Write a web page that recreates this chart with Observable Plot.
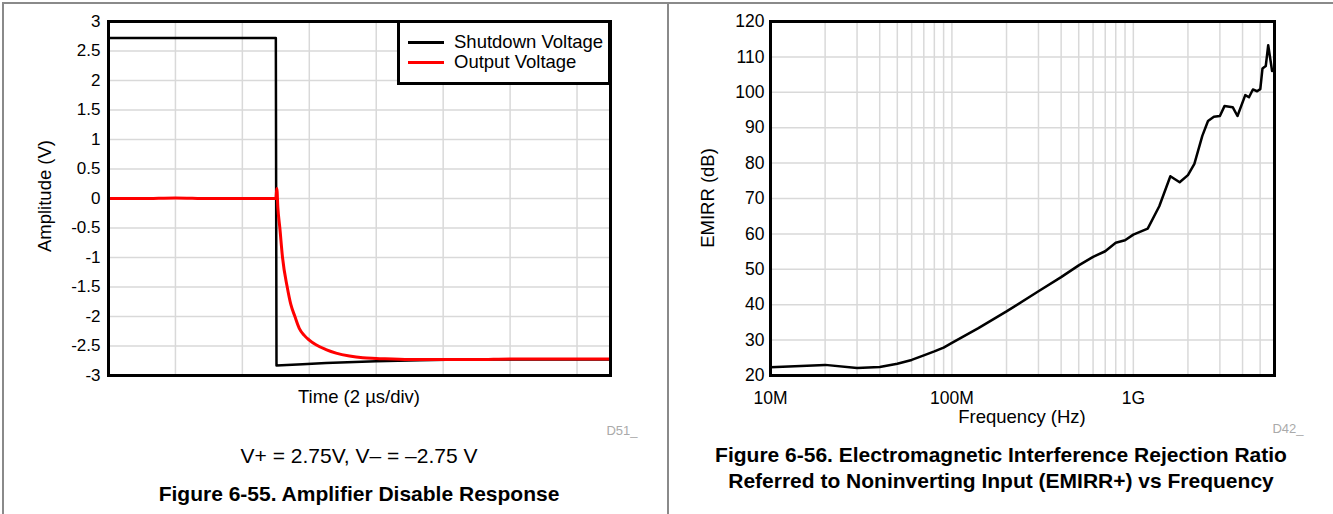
<!DOCTYPE html>
<html>
<head>
<meta charset="utf-8">
<script src="https://cdn.jsdelivr.net/npm/d3@7"></script>
<script src="https://cdn.jsdelivr.net/npm/@observablehq/plot@0.6"></script>
<style>
  html, body { margin: 0; padding: 0; background: #fff; }
  body { width: 1333px; height: 514px; position: relative; overflow: hidden;
         font-family: "Liberation Sans", Arial, sans-serif; color: #000; }
  .abs { position: absolute; white-space: nowrap; }
  .ctr { transform: translate(-50%, -50%); }
  .cap { font-weight: bold; font-size: 21px; }
  .code { color: #aaa; font-size: 13px; }
</style>
</head>
<body>
<div id="left" class="abs" style="left:0;top:0;"></div>
<div id="right" class="abs" style="left:670px;top:0;"></div>

<!-- page frame lines -->
<div class="abs" style="left:2px;top:2px;width:1333px;height:2px;background:#8a8a8a;"></div>
<div class="abs" style="left:2px;top:2px;width:2px;height:514px;background:#8a8a8a;"></div>
<div class="abs" style="left:667px;top:2px;width:2px;height:514px;background:#8a8a8a;"></div>

<!-- left panel texts -->
<div class="abs ctr" style="left:45px;top:196px;font-size:18.5px;transform:translate(-50%,-50%) rotate(-90deg);">Amplitude (V)</div>
<div class="abs ctr" style="left:359px;top:397px;font-size:18.5px;">Time (2 µs/div)</div>
<div class="abs ctr code" style="left:622px;top:430px;">D51_</div>
<div class="abs ctr" style="left:359px;top:456px;font-size:21px;">V+ = 2.75V, V– = –2.75 V</div>
<div class="abs ctr cap" style="left:359px;top:494px;">Figure 6-55. Amplifier Disable Response</div>
<div id="legend" class="abs" style="left:397px;top:20px;width:208px;height:59px;border:3px solid #000;background:#fff;"></div>

<!-- right panel texts -->
<div class="abs ctr" style="left:708px;top:198px;font-size:18.5px;transform:translate(-50%,-50%) rotate(-90deg);">EMIRR (dB)</div>
<div class="abs ctr" style="left:1022px;top:417px;font-size:18.5px;">Frequency (Hz)</div>
<div class="abs ctr code" style="left:1288px;top:428px;">D42_</div>
<div class="abs ctr cap" style="left:1001px;top:455px;">Figure 6-56. Electromagnetic Interference Rejection Ratio</div>
<div class="abs ctr cap" style="left:1001px;top:481px;">Referred to Noninverting Input (EMIRR+) vs Frequency</div>

<script>
// ---------- Data: Figure 6-55 (time in µs, amplitude in V) ----------
const shutdownT = [0, 5.0, 5.02, 5.8, 6.5, 8.0, 9.3, 10.5, 12, 15];
const shutdownV = [2.72, 2.72, -2.83, -2.81, -2.79, -2.76, -2.74, -2.73, -2.73, -2.73];

const outputT = [0, 1, 2, 3, 4, 5.0, 5.03, 5.06, 5.12, 5.2, 5.34, 5.45, 5.57, 5.7, 5.85, 6.0, 6.2, 6.5, 6.8, 7.2, 7.6, 8.0, 9, 10, 11, 12, 13, 14, 15];
const outputV = [0, 0, 0.01, 0, 0, 0, 0.17, -0.15, -0.5, -1.0, -1.5, -1.8, -2.0, -2.2, -2.32, -2.40, -2.48, -2.56, -2.62, -2.67, -2.70, -2.71, -2.73, -2.73, -2.73, -2.72, -2.72, -2.72, -2.72];

const ampTicks = [-3, -2.5, -2, -1.5, -1, -0.5, 0, 0.5, 1, 1.5, 2, 2.5, 3];
const timeGrid = [2, 4, 6, 8, 10, 12, 14];

// ---------- Data: Figure 6-56 (frequency in Hz, EMIRR in dB) ----------
const freqHz = [1e7, 2e7, 3e7, 4e7, 5e7, 6e7, 7e7, 8e7, 9e7, 1e8, 1.4e8, 2e8, 3e8, 4e8, 5e8, 6e8, 7e8, 8e8, 9e8, 1e9,
  1.2e9, 1.39e9, 1.6e9, 1.8e9, 2.0e9, 2.17e9, 2.4e9, 2.58e9, 2.78e9, 3.0e9, 3.18e9, 3.53e9, 3.75e9, 4.14e9, 4.34e9,
  4.56e9, 4.81e9, 5.01e9, 5.15e9, 5.37e9, 5.54e9, 5.82e9];
const emirrDb = [22.3, 23.0, 22.1, 22.4, 23.3, 24.4, 25.7, 26.8, 27.9, 29.2, 33.4, 38.1, 43.8, 47.8, 51.1, 53.5, 55.1, 57.5, 58.2, 59.8,
  61.5, 67.8, 76.3, 74.6, 76.6, 79.8, 87.7, 91.9, 93.1, 93.3, 96.1, 95.8, 93.3, 99.2, 98.6,
  100.8, 100.3, 100.9, 106.7, 107.4, 113.3, 106.0];

const dbTicks = [20, 30, 40, 50, 60, 70, 80, 90, 100, 110, 120];
const freqLabelTicks = [1e7, 1e8, 1e9];
const freqLabels = ["10M", "100M", "1G"];
const freqGrid = [2e7, 3e7, 4e7, 5e7, 6e7, 7e7, 8e7, 9e7, 1e8, 2e8, 3e8, 4e8, 5e8, 6e8, 7e8, 8e8, 9e8, 1e9, 2e9, 3e9, 4e9, 5e9];

const shutdown = shutdownT.map((t, i) => ({t, v: shutdownV[i]}));
const output = outputT.map((t, i) => ({t, v: outputV[i]}));
const emirr = freqHz.map((f, i) => ({f, db: emirrDb[i]}));

const gridColor = "#d9d9d9";
const font = "'Liberation Sans', Arial, sans-serif";

const left = Plot.plot({
  width: 667, height: 400,
  marginLeft: 108, marginRight: 57, marginTop: 21, marginBottom: 25,
  style: {fontFamily: font, fontSize: "17px", background: "transparent", overflow: "visible"},
  x: {domain: [0, 15], axis: null},
  y: {domain: [-3, 3], axis: null},
  marks: [
    Plot.gridY(ampTicks, {stroke: gridColor, strokeOpacity: 1, strokeWidth: 1.5}),
    Plot.gridX(timeGrid, {stroke: gridColor, strokeOpacity: 1, strokeWidth: 1.5}),
    Plot.axisY(ampTicks, {tickSize: 0, tickPadding: 8, tickFormat: d => String(d), label: null, fontSize: 17}),
    Plot.line(shutdown, {x: "t", y: "v", stroke: "#000", strokeWidth: 2.5}),
    Plot.line(output, {x: "t", y: "v", stroke: "#ff0000", strokeWidth: 3, curve: "monotone-x"}),
    Plot.frame({stroke: "#000", strokeWidth: 3})
  ]
});
document.getElementById("left").appendChild(left);

const right = Plot.plot({
  width: 663, height: 430,
  marginLeft: 100, marginRight: 59, marginTop: 21, marginBottom: 55,
  style: {fontFamily: font, fontSize: "17px", background: "transparent", overflow: "visible"},
  x: {type: "log", domain: [1e7, 6e9], axis: null},
  y: {domain: [20, 120], axis: null},
  marks: [
    Plot.gridY(dbTicks, {stroke: gridColor, strokeOpacity: 1, strokeWidth: 1.5}),
    Plot.gridX(freqGrid, {stroke: gridColor, strokeOpacity: 1, strokeWidth: 1.5}),
    Plot.axisY(dbTicks, {tickSize: 0, tickPadding: 6, tickFormat: d => String(d), label: null, fontSize: 17.5}),
    Plot.axisX(freqLabelTicks, {tickSize: 0, tickPadding: 16, tickFormat: d => freqLabels[freqLabelTicks.indexOf(d)], label: null, fontSize: 17.5}),
    Plot.line(emirr, {x: "f", y: "db", stroke: "#000", strokeWidth: 2.5}),
    Plot.frame({stroke: "#000", strokeWidth: 3})
  ]
});
document.getElementById("right").appendChild(right);

// legend (series names + colours)
const legendSeries = [{name: "Shutdown Voltage", color: "#000"}, {name: "Output Voltage", color: "#ff0000"}];
const lg = document.getElementById("legend");
legendSeries.forEach((s, i) => {
  const row = document.createElement("div");
  row.style.cssText = `position:absolute;left:8px;top:${9 + i * 20}px;height:20px;display:flex;align-items:center;font-size:18.5px;`;
  row.innerHTML = `<span style="display:inline-block;width:36px;height:3px;background:${s.color};margin-right:10px;"></span>${s.name}`;
  lg.appendChild(row);
});
</script>
</body>
</html>
